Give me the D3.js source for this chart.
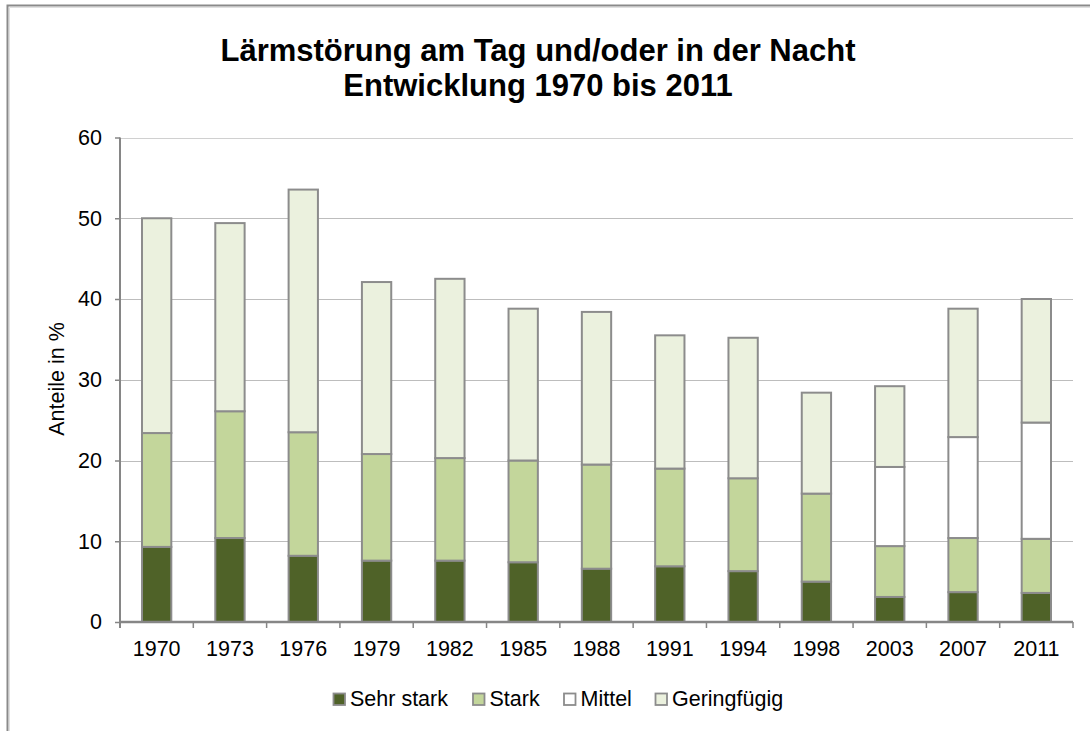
<!DOCTYPE html>
<html>
<head>
<meta charset="utf-8">
<script src="https://cdn.jsdelivr.net/npm/d3@7"></script>
<style>
  html, body { margin: 0; padding: 0; background: #fff; }
  svg { display: block; font-family: "Liberation Sans", Arial, sans-serif; }
</style>
</head>
<body>
<svg id="chart" width="1090" height="731"></svg>
<script>
const titleLines = ["Lärmstörung am Tag und/oder in der Nacht", "Entwicklung 1970 bis 2011"];
const yAxisTitle = "Anteile in %";
const categories = ["1970","1973","1976","1979","1982","1985","1988","1991","1994","1998","2003","2007","2011"];
const seriesNames = ["Sehr stark", "Stark", "Mittel", "Geringfügig"];
const sehrStark   = [9.3, 10.4, 8.2, 7.6, 7.6, 7.4, 6.6, 6.9, 6.3, 5.0, 3.1, 3.7, 3.6];
const stark       = [14.1, 15.7, 15.3, 13.2, 12.7, 12.6, 12.9, 12.1, 11.5, 10.9, 6.3, 6.7, 6.7];
const mittel      = [0, 0, 0, 0, 0, 0, 0, 0, 0, 0, 9.8, 12.5, 14.4];
const geringfuegig= [26.6, 23.3, 30.05, 21.3, 22.2, 18.8, 18.9, 16.5, 17.4, 12.5, 10.0, 15.9, 15.3];
const yTicks = [0, 10, 20, 30, 40, 50, 60];
const colors = ["#4f6228", "#c3d69b", "#ffffff", "#ebf1de"];

const svg = d3.select("#chart");
const margin = {left: 120, right: 1073, top: 137.5, bottom: 622};

const rows = categories.map((c, i) => ({
  cat: c, "Sehr stark": sehrStark[i], "Stark": stark[i], "Mittel": mittel[i], "Geringfügig": geringfuegig[i]
}));
const stacked = d3.stack().keys(seriesNames)(rows);

const x = d3.scaleBand().domain(categories).range([margin.left, margin.right]).paddingInner(0.6).paddingOuter(0.3);
const y = d3.scaleLinear().domain([0, 60]).range([margin.bottom, margin.top]);
const color = d3.scaleOrdinal().domain(seriesNames).range(colors);

// outer frame
svg.append("path").attr("d", "M7.5,731V5.5H1090").attr("fill", "none")
  .attr("stroke", "#8a8a8a").attr("stroke-width", 2);
svg.append("path").attr("d", "M9.5,731V7.5H1090").attr("fill", "none")
  .attr("stroke", "#e0e0e0").attr("stroke-width", 1);

// title
svg.append("text").attr("x", 538).attr("text-anchor", "middle")
  .attr("font-weight", "bold").attr("font-size", 31).attr("fill", "#000")
  .selectAll("tspan").data(titleLines).join("tspan")
  .attr("x", 538).attr("y", (d, i) => 61 + i * 35).text(d => d);

// gridlines
svg.append("g").selectAll("line").data(yTicks.filter(t => t > 0)).join("line")
  .attr("x1", margin.left).attr("x2", margin.right)
  .attr("y1", d => Math.round(y(d)) + 0.5).attr("y2", d => Math.round(y(d)) + 0.5)
  .attr("stroke", d => d === 60 ? "#d0d0d0" : "#bdbdbd").attr("stroke-width", 1);

// bars
svg.append("g").selectAll("g").data(stacked).join("g")
  .attr("fill", d => color(d.key))
  .selectAll("rect").data(d => d.filter(p => p[1] - p[0] > 0)).join("rect")
  .attr("x", d => x(d.data.cat))
  .attr("width", x.bandwidth())
  .attr("y", d => y(d[1]))
  .attr("height", d => y(d[0]) - y(d[1]))
  .attr("stroke", "#8c8c8c").attr("stroke-width", 2);

// y axis
const yAxis = d3.axisLeft(y).tickValues(yTicks).tickSize(5).tickPadding(13);
const gy = svg.append("g").attr("transform", `translate(${margin.left},0)`).call(yAxis);
gy.select(".domain").attr("stroke", "#868686").attr("stroke-width", 2).attr("d", `M0,${margin.top}V${margin.bottom + 6}`);
gy.selectAll(".tick line").attr("stroke", "#868686").attr("stroke-width", 1.5);
gy.selectAll(".tick text").attr("font-size", 21.5).attr("fill", "#000")
  .attr("font-family", "Liberation Sans, Arial, sans-serif");

// x axis (ticks at band boundaries)
const gx = svg.append("g").attr("transform", `translate(0,${margin.bottom})`);
gx.append("line").attr("x1", margin.left).attr("x2", margin.right).attr("y1", 0).attr("y2", 0)
  .attr("stroke", "#868686").attr("stroke-width", 2.5);
const boundaries = d3.range(categories.length + 1).map(i => margin.left + i * (margin.right - margin.left) / categories.length);
gx.selectAll("line.tk").data(boundaries).join("line").attr("class", "tk")
  .attr("x1", d => d).attr("x2", d => d).attr("y1", 0).attr("y2", 6)
  .attr("stroke", "#868686").attr("stroke-width", 1.5);
gx.selectAll("text").data(categories).join("text")
  .attr("x", d => x(d) + x.bandwidth() / 2).attr("y", 34)
  .attr("text-anchor", "middle").attr("font-size", 21.5).attr("fill", "#000").text(d => d);

// y axis title
svg.append("text").attr("transform", "translate(56,379) rotate(-90)")
  .attr("text-anchor", "middle").attr("dy", "0.35em")
  .attr("font-size", 21.5).attr("fill", "#000").text(yAxisTitle);

// legend
const legendX = [333, 472.5, 563.5, 655];
const lg = svg.append("g").selectAll("g").data(seriesNames).join("g")
  .attr("transform", (d, i) => `translate(${legendX[i]},693)`);
lg.append("rect").attr("x", 0.5).attr("y", 0.5).attr("width", 11.5).attr("height", 11.5)
  .attr("fill", d => color(d)).attr("stroke", "#8c8c8c").attr("stroke-width", 1.8);
lg.append("text").attr("x", 17).attr("y", 12.5).attr("font-size", 21.5).attr("fill", "#000").text(d => d);
</script>
</body>
</html>
